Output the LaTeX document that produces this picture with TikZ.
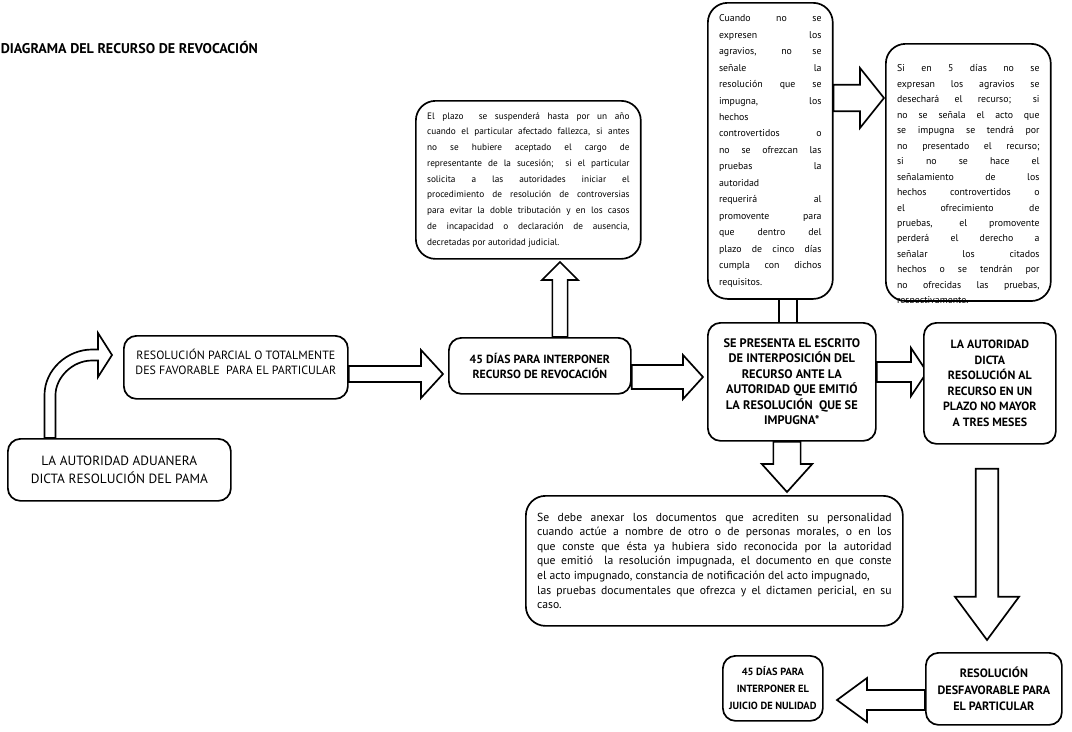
\documentclass[tikz,border=0pt]{standalone}
\usepackage{fontspec}
\setmainfont{PT Sans}
\usetikzlibrary{calc,backgrounds,positioning}
\tolerance=10000
\hyphenpenalty=10000
\hbadness=10000
\tikzset{x=0.025cm, y=-0.025cm,
    caja/.style={draw, line width=1.2pt, rounded corners=9pt, fill=white,
        align=center, anchor=north west, inner sep=2pt},
    cajanegrita/.style={caja, font=\bfseries},
    nota/.style={draw, line width=1.2pt, rounded corners=14pt, fill=white,
        align=justify, anchor=north west, inner xsep=8pt, inner ysep=5pt,
        font=\fontsize{7}{11}\selectfont},
    flecha/.style n args={3}{draw, line width=1.2pt, fill=white, to path={
        ($(\tikztostart)!#1!90:(\tikztotarget)$)
        -- ($(\tikztotarget)!#3!(\tikztostart)!#1!90:(\tikztotarget)$)
        -- ($(\tikztotarget)!#3!(\tikztostart)!#2!90:(\tikztotarget)$)
        -- (\tikztotarget)
        -- ($(\tikztotarget)!#3!(\tikztostart)!#2!-90:(\tikztotarget)$)
        -- ($(\tikztotarget)!#3!(\tikztostart)!#1!-90:(\tikztotarget)$)
        -- ($(\tikztostart)!#1!-90:(\tikztotarget)$) -- cycle}},
    tubo/.style={draw, line width=1.2pt, to path={
        ($(\tikztostart)!#1!90:(\tikztotarget)$) -- ($(\tikztotarget)!#1!-90:(\tikztostart)$)
        ($(\tikztostart)!#1!-90:(\tikztotarget)$) -- ($(\tikztotarget)!#1!90:(\tikztostart)$)}},
    titulo/.style={anchor=west, inner sep=0pt, font=\fontsize{10}{12}\selectfont\bfseries}}
\begin{document}
\begin{tikzpicture}
\useasboundingbox (0,0) rectangle (1072,731);

\node[titulo] (titulo) at (0.5,47) {DIAGRAMA DEL RECURSO DE REVOCACIÓN};

\node[caja, minimum width=5.575cm, minimum height=1.55cm,
    font=\fontsize{9.5}{12.5}\selectfont] (a) at (7,438)
    {LA AUTORIDAD ADUANERA\\DICTA RESOLUCIÓN DEL PAMA};
\node[caja, minimum width=5.6cm, minimum height=1.575cm,
    font=\fontsize{8.5}{10.6}\selectfont] (b) at (123,335)
    {RESOLUCIÓN PARCIAL O TOTALMENTE\\DES FAVORABLE\ \ PARA EL PARTICULAR\\[-3pt]\mbox{}};
\node[cajanegrita, minimum width=4.55cm, minimum height=1.4cm,
    font=\fontsize{8.4}{10.6}\selectfont\bfseries] (c) at (448,337)
    {45 DÍAS PARA INTERPONER\\RECURSO DE REVOCACIÓN};
\node[cajanegrita, minimum width=4.2cm, minimum height=2.95cm,
    font=\fontsize{8.8}{11}\selectfont\bfseries] (d) at (707,322)
    {SE PRESENTA EL ESCRITO\\DE INTERPOSICIÓN DEL\\RECURSO ANTE LA\\AUTORIDAD QUE EMITIÓ\\LA RESOLUCIÓN\ \ QUE SE\\IMPUGNA*};
\node[cajanegrita, minimum width=3.3cm, minimum height=3.025cm,
    font=\fontsize{8.5}{11}\selectfont\bfseries] (e) at (923,322)
    {LA AUTORIDAD\\DICTA\\RESOLUCIÓN AL\\RECURSO EN UN\\PLAZO NO MAYOR\\A TRES MESES};
\node[cajanegrita, minimum width=3.4cm, minimum height=1.8cm,
    font=\fontsize{8.6}{12}\selectfont\bfseries] (f) at (925,652)
    {RESOLUCIÓN\\DESFAVORABLE PARA\\EL PARTICULAR};
\node[cajanegrita, minimum width=2.5cm, minimum height=1.625cm,
    font=\fontsize{7.4}{12.2}\selectfont\bfseries] (g) at (722,655)
    {45 DÍAS PARA\\INTERPONER EL\\JUICIO DE NULIDAD};

\node[nota, text width=5.06cm, minimum height=3.95cm,
    font=\fontsize{6.6}{11.2}\selectfont] (p) at (415,100)
    {El plazo\ \ se suspenderá hasta por un año\linebreak
    cuando el particular afectado fallezca, si antes\linebreak
    no se hubiere aceptado el cargo de\linebreak
    representante de la sucesión;\ \ si el particular\linebreak
    solicita a las autoridades iniciar el\linebreak
    procedimiento de resolución de controversias\linebreak
    para evitar la doble tributación y en los casos\linebreak
    de incapacidad o declaración de ausencia,\linebreak
    decretadas por autoridad judicial.};
\node[nota, text width=2.56cm, minimum height=7.4cm,
    font=\fontsize{7}{11.7}\selectfont] (q) at (707,2)
    {Cuando no se\linebreak expresen los\linebreak agravios, no se\linebreak
    señale la\linebreak resolución que se\linebreak impugna, los\linebreak
    hechos\newline controvertidos o\linebreak no se ofrezcan las\linebreak
    pruebas la\linebreak autoridad\newline requerirá al\linebreak
    promovente para\linebreak que dentro del\linebreak plazo de cinco días\linebreak
    cumpla con dichos\linebreak requisitos.};
\node[nota, text width=3.56cm, text height=14.9pt, text depth=158pt] (r) at (885,43)
    {Si en 5 días no se\linebreak expresan los agravios se\linebreak
    desechará el recurso; si\linebreak no se señala el acto que\linebreak
    se impugna se tendrá por\linebreak no presentado el recurso;\linebreak
    si no se hace el\linebreak señalamiento de los\linebreak
    hechos controvertidos o\linebreak el ofrecimiento de\linebreak
    pruebas, el promovente\linebreak perderá el derecho a\linebreak
    señalar los citados\linebreak hechos o se tendrán por\linebreak
    no ofrecidas las pruebas,\linebreak respectivamente.};
\fill[white] (893,302.5) rectangle (1040,318);
\node[nota, text width=8.86cm, minimum height=3.25cm,
    font=\fontsize{8.3}{10.4}\selectfont] (h) at (525,495)
    {Se debe anexar los documentos que acrediten su personalidad\linebreak
    cuando actúe a nombre de otro o de personas morales, o en los\linebreak
    que conste que ésta ya hubiera sido reconocida por la autoridad\linebreak
    que emitió\ \ la resolución impugnada, el documento en que conste\linebreak
    el acto impugnado, constancia de notificación del acto impugnado,\newline
    las pruebas documentales que ofrezca y el dictamen pericial, en su\linebreak
    caso.};

\coordinate (pBC) at (443,374);
\coordinate (pCD) at (703,377);
\coordinate (pCP) at (560,262);
\coordinate (pDQ) at (788,298);
\coordinate (pDE) at (927,372);
\coordinate (pDH) at (787,492);
\coordinate (pEF) at (987,640);
\coordinate (pFG) at (837,700);
\coordinate (pQR) at (884,98);

\begin{scope}[on background layer]
\draw[line width=1.2pt, fill=white] (a.north -| 44.5,0) -- (44.5,395)
    .. controls (44.5,370) and (67,349.5) .. (92,349.5) -- (98,349.5) -- (98,333)
    -- (112,355) -- (98,377) -- (98,360.5) -- (92,360.5)
    .. controls (72,360.5) and (55.5,378) .. (55.5,395) -- (a.north -| 55.5,0) -- cycle;
\path
    (b.east |- pBC)             edge [flecha={0.2cm}{0.6cm}{0.55cm}]   (pBC)
    (c.east |- pCD)             edge [flecha={0.3cm}{0.55cm}{0.5cm}]   (pCD)
    (c.north -| pCP)            edge [flecha={0.19cm}{0.45cm}{0.45cm}] (pCP)
    (d.north -| pDQ)            edge [tubo=0.22cm]                     (pDQ)
    (d.east |- pDE)             edge [flecha={0.25cm}{0.6cm}{0.4cm}]   (pDE)
    (d.south -| pDH)            edge [flecha={0.34cm}{0.63cm}{0.7cm}]  (pDH)
    ($(e.south -| pEF)+(0,24)$) edge [flecha={0.28cm}{0.8cm}{1.08cm}]  (pEF)
    (f.west |- pFG)             edge [flecha={0.25cm}{0.55cm}{0.75cm}] (pFG)
    (q.east |- pQR)             edge [flecha={0.33cm}{0.75cm}{0.6cm}]  (pQR);
\end{scope}
\end{tikzpicture}
\end{document}
